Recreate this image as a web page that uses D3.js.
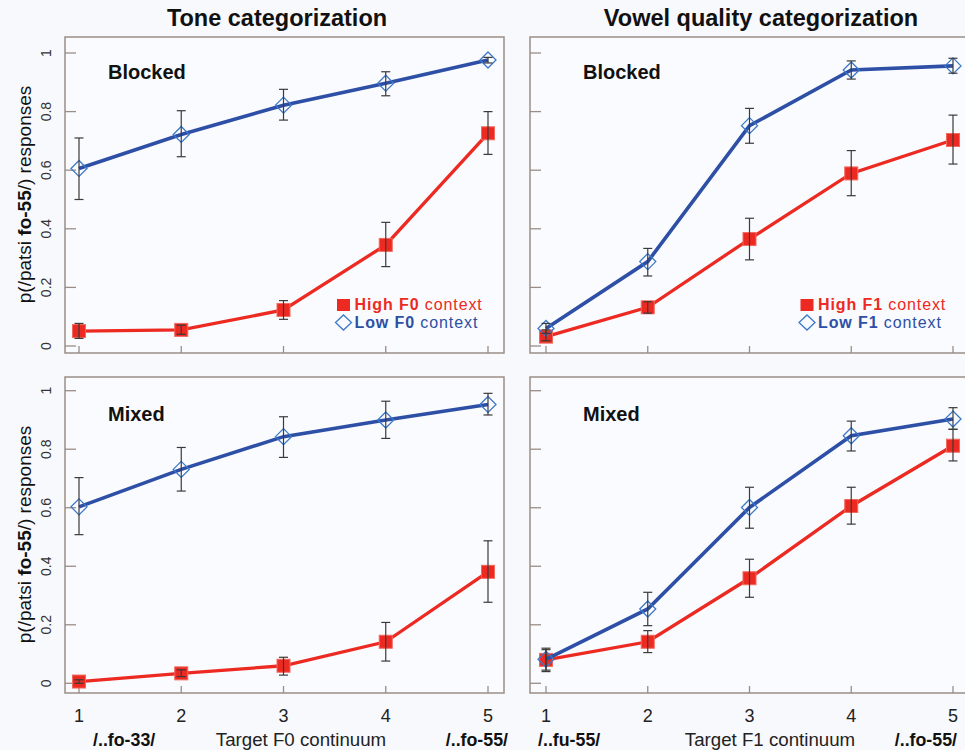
<!DOCTYPE html>
<html>
<head>
<meta charset="utf-8">
<script src="https://cdn.jsdelivr.net/npm/d3@7"></script>
<style>
  html, body { margin: 0; padding: 0; background: #f8f9fc; }
  svg { display: block; font-family: "Liberation Sans", Arial, sans-serif; }
</style>
</head>
<body>
<div id="chart"></div>
<script>
// Data -------------------------------------
var steps = [1, 2, 3, 4, 5];
var yTicks = [0, 0.2, 0.4, 0.6, 0.8, 1];
var yTickLabels = ["0", "0.2", "0.4", "0.6", "0.8", "1"];
var xTickLabels = ["1", "2", "3", "4", "5"];

// Tone categorization, blocked
var toneBlockedHigh   = [0.051, 0.055, 0.123, 0.345, 0.726];
var toneBlockedHighLo = [0.026, 0.040, 0.091, 0.271, 0.654];
var toneBlockedHighHi = [0.077, 0.071, 0.155, 0.422, 0.800];
var toneBlockedLow    = [0.606, 0.722, 0.822, 0.897, 0.976];
var toneBlockedLowLo  = [0.500, 0.646, 0.771, 0.854, 0.966];
var toneBlockedLowHi  = [0.710, 0.803, 0.876, 0.936, 0.985];

// Vowel quality categorization, blocked
var vowelBlockedHigh   = [0.032, 0.132, 0.365, 0.589, 0.703];
var vowelBlockedHighLo = [0.018, 0.112, 0.294, 0.513, 0.621];
var vowelBlockedHighHi = [0.055, 0.151, 0.436, 0.667, 0.788];
var vowelBlockedLow    = [0.060, 0.288, 0.752, 0.942, 0.956];
var vowelBlockedLowLo  = [0.043, 0.239, 0.692, 0.911, 0.931];
var vowelBlockedLowHi  = [0.077, 0.333, 0.811, 0.973, 0.982];

// Tone categorization, mixed
var toneMixedHigh   = [0.006, 0.034, 0.060, 0.142, 0.381];
var toneMixedHighLo = [0.000, 0.023, 0.028, 0.076, 0.277];
var toneMixedHighHi = [0.012, 0.046, 0.089, 0.208, 0.487];
var toneMixedLow    = [0.603, 0.731, 0.843, 0.900, 0.953];
var toneMixedLowLo  = [0.508, 0.657, 0.772, 0.837, 0.917];
var toneMixedLowHi  = [0.703, 0.806, 0.911, 0.964, 0.991];

// Vowel quality categorization, mixed
var vowelMixedHigh   = [0.080, 0.142, 0.359, 0.606, 0.812];
var vowelMixedHighLo = [0.045, 0.105, 0.294, 0.544, 0.760];
var vowelMixedHighHi = [0.115, 0.180, 0.424, 0.670, 0.868];
var vowelMixedLow    = [0.082, 0.254, 0.601, 0.846, 0.903];
var vowelMixedLowLo  = [0.040, 0.197, 0.530, 0.794, 0.868];
var vowelMixedLowHi  = [0.120, 0.311, 0.670, 0.896, 0.942];

// Colours -------------------------------------
var red = "#ec2a22";
var blue = "#2d4fa6";
var diamondBlue = "#3c78c8";
var frameColor = "#9a8d86";

// SVG -------------------------------------
var width = 965, height = 750;
var svg = d3.select("#chart").append("svg")
  .attr("width", width)
  .attr("height", height);

svg.append("rect").attr("width", width).attr("height", height).attr("fill", "#f8f9fc");

// Panels -------------------------------------
var panels = [
  { left: 65, top: 37, xr: [79, 488], yr: [346, 53], labels: true, cond: "Blocked", condX: 108, condY: 79,
    high: toneBlockedHigh, highLo: toneBlockedHighLo, highHi: toneBlockedHighHi,
    low: toneBlockedLow, lowLo: toneBlockedLowLo, lowHi: toneBlockedLowHi,
    legend: { x: 343.5, text: "F0" } },
  { left: 530, top: 37, xr: [546, 953], yr: [346, 53], labels: false, cond: "Blocked", condX: 583, condY: 79,
    high: vowelBlockedHigh, highLo: vowelBlockedHighLo, highHi: vowelBlockedHighHi,
    low: vowelBlockedLow, lowLo: vowelBlockedLowLo, lowHi: vowelBlockedLowHi,
    legend: { x: 807, text: "F1" } },
  { left: 65, top: 377, xr: [79, 488], yr: [683.3, 390.7], labels: true, cond: "Mixed", condX: 108, condY: 421,
    high: toneMixedHigh, highLo: toneMixedHighLo, highHi: toneMixedHighHi,
    low: toneMixedLow, lowLo: toneMixedLowLo, lowHi: toneMixedLowHi,
    bottom: { left: "/..fo-33/", leftX: 93, mid: "Target F0 continuum", midX: 301, right: "/..fo-55/", rightX: 508 } },
  { left: 530, top: 377, xr: [546, 953], yr: [683.3, 390.7], labels: false, cond: "Mixed", condX: 583, condY: 421,
    high: vowelMixedHigh, highLo: vowelMixedHighLo, highHi: vowelMixedHighHi,
    low: vowelMixedLow, lowLo: vowelMixedLowLo, lowHi: vowelMixedLowHi,
    bottom: { left: "/..fu-55/", leftX: 538, mid: "Target F1 continuum", midX: 770, right: "/..fo-55/", rightX: 957 } }
];

var frameW = 439, frameH = 316;

panels.forEach(function(p) {
  var x = d3.scaleLinear().domain([1, 5]).range(p.xr);
  var y = d3.scaleLinear().domain([0, 1]).range(p.yr);
  var g = svg.append("g");

  // frame
  g.append("rect")
    .attr("x", p.left).attr("y", p.top)
    .attr("width", frameW + (p.left > 500 ? 2 : 0)).attr("height", frameH)
    .attr("fill", "#fafbfe")
    .attr("stroke", frameColor).attr("stroke-width", 1.5);

  // y ticks (pointing inwards)
  g.selectAll(".ytick").data(yTicks).enter().append("line")
    .attr("x1", p.left).attr("x2", p.left + 11)
    .attr("y1", function(d) { return y(d); }).attr("y2", function(d) { return y(d); })
    .attr("stroke", frameColor).attr("stroke-width", 1.3);

  // x ticks (pointing inwards)
  g.selectAll(".xtick").data(steps).enter().append("line")
    .attr("x1", function(d) { return x(d); }).attr("x2", function(d) { return x(d); })
    .attr("y1", p.top + frameH).attr("y2", p.top + frameH - 7)
    .attr("stroke", frameColor).attr("stroke-width", 1.3);

  if (p.labels) {
    // y tick labels, rotated
    g.selectAll(".ylab").data(yTicks).enter().append("text")
      .attr("transform", function(d) { return "translate(51," + y(d) + ") rotate(-90)"; })
      .attr("text-anchor", "middle")
      .attr("font-size", 14)
      .attr("fill", "#333")
      .text(function(d, i) { return yTickLabels[i]; });

    // y axis title
    var yt = g.append("text")
      .attr("transform", "translate(31," + ((p.top + frameH / 2) - 0.5) + ") rotate(-90)")
      .attr("text-anchor", "middle")
      .attr("font-size", 19)
      .attr("fill", "#111");
    yt.append("tspan").text("p(/patsi ");
    yt.append("tspan").attr("font-weight", "bold").text("fo-55");
    yt.append("tspan").text("/) responses");
  }

  // condition label
  g.append("text")
    .attr("x", p.condX).attr("y", p.condY)
    .attr("font-size", 20).attr("font-weight", "bold").attr("fill", "#111")
    .text(p.cond);

  // lines
  var line = d3.line()
    .x(function(d, i) { return x(steps[i]); })
    .y(function(d) { return y(d); });

  g.append("path").datum(p.high).attr("d", line)
    .attr("fill", "none").attr("stroke", red).attr("stroke-width", 3.3);

  g.selectAll(".sq").data(p.high).enter().append("rect")
    .attr("x", function(d, i) { return x(steps[i]) - 6.5; })
    .attr("y", function(d) { return y(d) - 6.5; })
    .attr("width", 13).attr("height", 13)
    .attr("fill", red).attr("stroke", "#f26a5e").attr("stroke-width", 1);

  g.append("path").datum(p.low).attr("d", line)
    .attr("fill", "none").attr("stroke", blue).attr("stroke-width", 3.6);

  g.selectAll(".dia").data(p.low).enter().append("path")
    .attr("transform", function(d, i) { return "translate(" + x(steps[i]) + "," + y(d) + ")"; })
    .attr("d", "M0,-8L8,0L0,8L-8,0Z")
    .attr("fill", "none").attr("stroke", diamondBlue).attr("stroke-width", 1.3);

  // error bars
  [[p.highLo, p.highHi], [p.lowLo, p.lowHi]].forEach(function(e) {
    var eb = g.selectAll(null).data(steps).enter().append("g").attr("stroke", "#3a3a3a").attr("stroke-width", 1.2);
    eb.append("line")
      .attr("x1", function(d) { return x(d); }).attr("x2", function(d) { return x(d); })
      .attr("y1", function(d, i) { return y(e[0][i]); }).attr("y2", function(d, i) { return y(e[1][i]); });
    eb.append("line")
      .attr("x1", function(d) { return x(d) - 4.5; }).attr("x2", function(d) { return x(d) + 4.5; })
      .attr("y1", function(d, i) { return y(e[0][i]); }).attr("y2", function(d, i) { return y(e[0][i]); });
    eb.append("line")
      .attr("x1", function(d) { return x(d) - 4.5; }).attr("x2", function(d) { return x(d) + 4.5; })
      .attr("y1", function(d, i) { return y(e[1][i]); }).attr("y2", function(d, i) { return y(e[1][i]); });
  });

  // legend
  if (p.legend) {
    var lx = p.legend.x;
    g.append("rect").attr("x", lx - 6.5).attr("y", 299).attr("width", 13).attr("height", 12).attr("fill", red);
    g.append("path").attr("transform", "translate(" + lx + ",322.5)")
      .attr("d", "M0,-7.5L8,0L0,7.5L-8,0Z")
      .attr("fill", "none").attr("stroke", diamondBlue).attr("stroke-width", 1.3);
    var t1 = g.append("text").attr("x", lx + 11).attr("y", 309.5).attr("font-size", 16)
      .attr("letter-spacing", 0.9).attr("fill", red);
    t1.append("tspan").attr("font-weight", "bold").text("High " + p.legend.text);
    t1.append("tspan").text(" context");
    var t2 = g.append("text").attr("x", lx + 11).attr("y", 327.5).attr("font-size", 16)
      .attr("letter-spacing", 0.9).attr("fill", blue);
    t2.append("tspan").attr("font-weight", "bold").text("Low " + p.legend.text);
    t2.append("tspan").text(" context");
  }

  // bottom axis labels
  if (p.bottom) {
    g.selectAll(".xlab").data(steps).enter().append("text")
      .attr("x", function(d) { return x(d); }).attr("y", 722)
      .attr("text-anchor", "middle").attr("font-size", 18).attr("fill", "#222")
      .text(function(d, i) { return xTickLabels[i]; });
    g.append("text").attr("x", p.bottom.leftX).attr("y", 746)
      .attr("font-size", 17.8).attr("font-weight", "bold").attr("fill", "#111")
      .text(p.bottom.left);
    g.append("text").attr("x", p.bottom.midX).attr("y", 746).attr("text-anchor", "middle")
      .attr("font-size", 18.7).attr("fill", "#222")
      .text(p.bottom.mid);
    g.append("text").attr("x", p.bottom.rightX).attr("y", 746).attr("text-anchor", "end")
      .attr("font-size", 17.8).attr("font-weight", "bold").attr("fill", "#111")
      .text(p.bottom.right);
  }
});

// Column titles -------------------------------------
svg.append("text").attr("x", 277).attr("y", 26).attr("text-anchor", "middle")
  .attr("font-size", 23.5).attr("font-weight", "bold").attr("fill", "#111")
  .text("Tone categorization");
svg.append("text").attr("x", 761).attr("y", 26).attr("text-anchor", "middle")
  .attr("font-size", 23.5).attr("font-weight", "bold").attr("fill", "#111")
  .text("Vowel quality categorization");
</script>
</body>
</html>
